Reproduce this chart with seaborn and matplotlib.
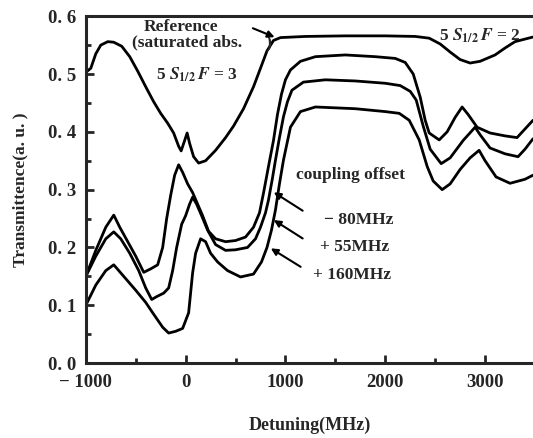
import numpy as np
import pandas as pd
import seaborn as sns
import matplotlib.pyplot as plt
from matplotlib.ticker import MultipleLocator, FuncFormatter

# reference (saturated absorption) trace
ref_x = [-1000, -950, -900, -850, -780, -720, -640, -560, -480, -400, -320, -250, -180, -120,
         -70, -45, -10, 15, 40, 80, 130, 200, 300, 400, 480, 580, 680, 750, 815, 880, 950,
         1200, 1600, 2000, 2300, 2440, 2550, 2650, 2750, 2850, 2950, 3100, 3200, 3300, 3480]
ref_y = [0.503, 0.51, 0.535, 0.55, 0.556, 0.555, 0.548, 0.53, 0.505, 0.478, 0.452, 0.432, 0.415, 0.398,
         0.375, 0.367, 0.385, 0.398, 0.38, 0.357, 0.346, 0.35, 0.368, 0.39, 0.41, 0.44, 0.478, 0.51, 0.54, 0.558, 0.563,
         0.565, 0.566, 0.566, 0.565, 0.562, 0.552, 0.538, 0.525, 0.519, 0.522, 0.533, 0.545, 0.556, 0.564]

# coupling offset -80MHz
a_x = [-1000, -900, -800, -720, -660, -580, -500, -420, -350, -280, -230, -190, -150, -110, -70, -30,
       20, 70, 120, 170, 230, 300, 400, 500, 600, 680, 740, 780, 830, 880, 920, 960, 1000, 1050,
       1150, 1300, 1600, 1900, 2100, 2200, 2280, 2350, 2400, 2440, 2540, 2620, 2700, 2770, 2830,
       2920, 3050, 3200, 3320, 3400, 3480]
a_y = [0.15, 0.195, 0.235, 0.256, 0.235, 0.21, 0.185, 0.157, 0.163, 0.17, 0.2, 0.25, 0.29, 0.325, 0.343, 0.33,
       0.31, 0.295, 0.275, 0.255, 0.228, 0.215, 0.21, 0.212, 0.218, 0.235, 0.26, 0.294, 0.34, 0.385, 0.43, 0.465, 0.49, 0.507,
       0.522, 0.53, 0.533, 0.53, 0.527, 0.52, 0.5, 0.46, 0.42, 0.398, 0.386, 0.4, 0.425, 0.443, 0.43,
       0.408, 0.398, 0.393, 0.39, 0.405, 0.42]

# coupling offset +55MHz
b_x = [-1000, -900, -800, -720, -650, -560, -470, -400, -340, -290, -220, -170, -130, -90, -40, 0,
       40, 70, 110, 160, 220, 300, 400, 500, 620, 700, 750, 800, 830, 870, 900, 940, 980, 1020,
       1065, 1180, 1400, 1700, 2000, 2150, 2250, 2310, 2380, 2450, 2560, 2650, 2780, 2900, 2950,
       3050, 3200, 3330, 3400, 3480]
b_y = [0.15, 0.185, 0.215, 0.227, 0.215, 0.19, 0.16, 0.13, 0.11, 0.115, 0.121, 0.13, 0.16, 0.2, 0.24, 0.255,
       0.275, 0.287, 0.275, 0.255, 0.23, 0.205, 0.195, 0.196, 0.2, 0.215, 0.235, 0.26, 0.282, 0.32, 0.351, 0.39, 0.426, 0.452,
       0.472, 0.486, 0.49, 0.488, 0.484, 0.48, 0.47, 0.455, 0.41, 0.37, 0.345, 0.355, 0.385, 0.408, 0.395,
       0.372, 0.362, 0.357, 0.37, 0.388]

# coupling offset +160MHz
c_x = [-1000, -900, -800, -720, -620, -500, -400, -330, -230, -170, -100, -30, 30, 70, 100, 150,
       200, 250, 320, 420, 550, 680, 760, 815, 860, 900, 940, 980, 1050, 1150, 1300, 1700, 2000,
       2140, 2240, 2340, 2420, 2480, 2570, 2650, 2750, 2850, 2940, 3000, 3110, 3250, 3400, 3480]
c_y = [0.1, 0.135, 0.16, 0.17, 0.15, 0.126, 0.105, 0.087, 0.062, 0.052, 0.055, 0.06, 0.087, 0.156, 0.19, 0.215,
       0.21, 0.19, 0.175, 0.16, 0.149, 0.154, 0.175, 0.2, 0.23, 0.265, 0.31, 0.351, 0.408, 0.435, 0.443, 0.44, 0.435,
       0.432, 0.42, 0.386, 0.34, 0.315, 0.3, 0.31, 0.335, 0.355, 0.368, 0.35, 0.322, 0.311, 0.318, 0.325]

offset_labels = ["\u2212 80MHz", "+ 55MHz", "+ 160MHz"]


def xfmt(v, p):
    if v < 0:
        return f"\u2212 {abs(v):.0f}"
    return f"{v:.0f}"


def plot():
    sns.set_style("ticks")
    plt.rcParams["font.family"] = ["Liberation Serif", "DejaVu Serif"]
    plt.rcParams["font.weight"] = "bold"
    plt.rcParams["mathtext.fontset"] = "stix"

    fig = plt.figure(figsize=(5.33, 4.38), dpi=100)
    ax = fig.add_axes([0.161, 0.171, 0.839, 0.792])

    traces = [(ref_x, ref_y), (a_x, a_y), (b_x, b_y), (c_x, c_y)]
    for xs, ys in traces:
        df = pd.DataFrame({"x": xs, "y": ys})
        sns.lineplot(data=df, x="x", y="y", ax=ax, color="black", lw=2,
                     estimator=None, sort=False)

    ax.set_xlim(-1000, 3480)
    ax.set_ylim(0, 0.6)
    ax.xaxis.set_major_locator(MultipleLocator(1000))
    ax.xaxis.set_minor_locator(MultipleLocator(500))
    ax.xaxis.set_major_formatter(FuncFormatter(xfmt))
    ax.yaxis.set_major_locator(MultipleLocator(0.1))
    ax.yaxis.set_minor_locator(MultipleLocator(0.05))
    ax.yaxis.set_major_formatter(FuncFormatter(lambda v, p: f"{v:.1f}".replace(".", ". ")))
    ax.tick_params(which="both", direction="in", width=2, labelsize=13.5)
    ax.tick_params(which="major", length=6)
    ax.tick_params(axis="x", which="major", pad=8)
    ax.tick_params(axis="y", which="major", pad=7)
    ax.tick_params(which="minor", length=3.5)
    for s in ["left", "bottom", "top"]:
        ax.spines[s].set_linewidth(2.2)
    ax.spines["right"].set_visible(False)
    for lab in ax.get_xticklabels() + ax.get_yticklabels():
        lab.set_fontweight("bold")

    ax.set_xlabel("Detuning(MHz)", fontsize=13, fontweight="bold", labelpad=18)
    ax.set_ylabel("Transmittence(a. u. )", fontsize=12.5, fontweight="bold", labelpad=14)

    tf = dict(fontsize=12.5, fontweight="bold", ha="center", va="center")
    ax.text(-50, 0.581, "Reference", **tf)
    ax.text(10, 0.554, "(saturated abs.", **tf)
    ax.text(830, 0.553, ")", fontsize=13, ha="center", va="center")
    ax.text(110, 0.498, r"5 $S_{1/2}\,F$ = 3", **tf)
    ax.text(2950, 0.566, r"5 $S_{1/2}\,F$ = 2", **tf)
    ax.annotate("", xy=(917, 0.562), xytext=(648, 0.581),
                arrowprops=dict(arrowstyle="-|>", color="black", lw=1.5, mutation_scale=10))

    ax.text(1650, 0.325, "coupling offset", **tf)
    tips = [(860, 0.298), (860, 0.25), (830, 0.201)]
    tails = [(1196, 0.261), (1196, 0.213), (1176, 0.164)]
    pos = [(1730, 0.247), (1690, 0.2), (1670, 0.152)]
    for lab, tip, tail, p in zip(offset_labels, tips, tails, pos):
        ax.annotate("", xy=tip, xytext=tail,
                    arrowprops=dict(arrowstyle="-|>", color="black", lw=1.5, mutation_scale=10))
        ax.text(p[0], p[1], lab, **tf)

    fig.savefig("out.png", dpi=100)


if __name__ == '__main__':
    plot()
